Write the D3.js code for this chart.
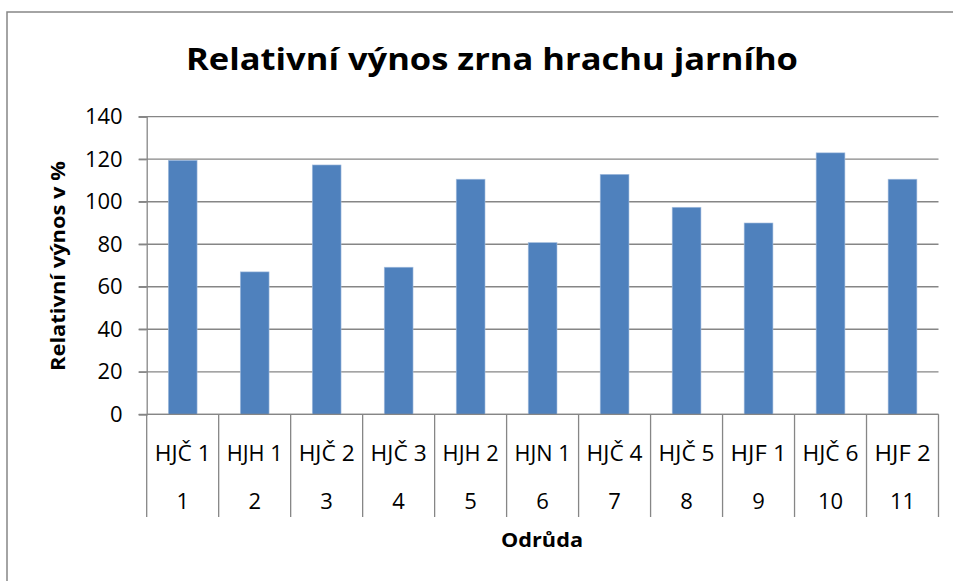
<!DOCTYPE html>
<html>
<head>
<meta charset="utf-8">
<script src="https://cdn.jsdelivr.net/npm/d3@7"></script>
<style>
  body { margin: 0; background: #fff; }
  svg { display: block; }
  text { font-family: "Open Sans", sans-serif; fill: #000; }
</style>
</head>
<body>
<svg id="chart" width="953" height="581"></svg>
<script>
// data
var odrudy = ['HJČ 1', 'HJH 1', 'HJČ 2', 'HJČ 3', 'HJH 2', 'HJN 1', 'HJČ 4', 'HJČ 5', 'HJF 1', 'HJČ 6', 'HJF 2'];
var poradi = ['1', '2', '3', '4', '5', '6', '7', '8', '9', '10', '11'];
var vynos = [119.5, 67, 117.3, 69.2, 110.6, 80.8, 112.9, 97.4, 90, 123, 110.6];
var yTicks = [0, 20, 40, 60, 80, 100, 120, 140];

// rozmery plochy grafu
var plotLeft = 146.7, plotRight = 938.5, plotTop = 116.7, plotBottom = 414.3;
var grey = '#868686';

var svg = d3.select('#chart');

// ramecek grafu
svg.append('rect')
    .attr('x', 7).attr('y', 12)
    .attr('width', 960).attr('height', 600)
    .attr('fill', 'none')
    .attr('stroke', grey)
    .attr('stroke-width', 1.5);

var x = d3.scaleBand().domain(poradi).range([plotLeft, plotRight]).padding(0);
var y = d3.scaleLinear().domain([0, 140]).range([plotBottom, plotTop]);

// mrizka
svg.append('g').selectAll('line')
    .data(yTicks)
    .enter().append('line')
    .attr('x1', plotLeft - 8).attr('x2', plotRight)
    .attr('y1', function (d) { return y(d); })
    .attr('y2', function (d) { return y(d); })
    .attr('stroke', grey)
    .attr('stroke-width', 1.3);

// osa y
var yAxis = d3.axisLeft(y).tickValues(yTicks).tickSize(8).tickPadding(16);
var gy = svg.append('g').attr('transform', 'translate(' + plotLeft + ',0)').call(yAxis);
gy.select('.domain').attr('stroke', grey).attr('stroke-width', 1.3);
gy.selectAll('.tick line').attr('stroke', grey).attr('stroke-width', 1.3);
gy.selectAll('.tick text')
    .attr('font-family', '"Open Sans", sans-serif')
    .attr('font-size', 22)
    .attr('fill', '#000');

// sloupce
var bw = x.bandwidth() * 0.4;
svg.append('g').selectAll('rect')
    .data(vynos)
    .enter().append('rect')
    .attr('x', function (d, i) { return x(poradi[i]) + (x.bandwidth() - bw) / 2; })
    .attr('y', function (d) { return y(d); })
    .attr('width', bw)
    .attr('height', function (d) { return y(0) - y(d); })
    .attr('fill', '#4F81BD')
    .attr('stroke', '#a9c1e0')
    .attr('stroke-width', 0.6);

// osa x - dvouurovnova
svg.append('line')
    .attr('x1', plotLeft).attr('x2', plotRight)
    .attr('y1', plotBottom).attr('y2', plotBottom)
    .attr('stroke', grey).attr('stroke-width', 1.3);

var hranice = poradi.map(function (p) { return x(p); }).concat([plotRight]);
svg.append('g').selectAll('line')
    .data(hranice)
    .enter().append('line')
    .attr('x1', function (d) { return d; })
    .attr('x2', function (d) { return d; })
    .attr('y1', plotBottom).attr('y2', 517)
    .attr('stroke', grey).attr('stroke-width', 1.3);

svg.append('g').selectAll('text')
    .data(odrudy)
    .enter().append('text')
    .attr('x', function (d, i) { return x(poradi[i]) + x.bandwidth() / 2; })
    .attr('y', 461)
    .attr('text-anchor', 'middle')
    .attr('font-size', 21)
    .attr('textLength', 56)
    .attr('lengthAdjust', 'spacingAndGlyphs')
    .text(function (d) { return d; });

svg.append('g').selectAll('text')
    .data(poradi)
    .enter().append('text')
    .attr('x', function (d) { return x(d) + x.bandwidth() / 2; })
    .attr('y', 509)
    .attr('text-anchor', 'middle')
    .attr('font-size', 22)
    .text(function (d) { return d; });

// popisky
svg.append('text')
    .attr('x', 492).attr('y', 70)
    .attr('text-anchor', 'middle')
    .attr('font-size', 31)
    .attr('font-weight', 'bold')
    .attr('textLength', 612)
    .attr('lengthAdjust', 'spacingAndGlyphs')
    .text('Relativní výnos zrna hrachu jarního');

svg.append('text')
    .attr('x', 542).attr('y', 547)
    .attr('text-anchor', 'middle')
    .attr('font-size', 20)
    .attr('font-weight', 'bold')
    .attr('textLength', 82)
    .attr('lengthAdjust', 'spacingAndGlyphs')
    .text('Odrůda');

svg.append('text')
    .attr('transform', 'translate(65,266) rotate(-90)')
    .attr('text-anchor', 'middle')
    .attr('font-size', 20)
    .attr('font-weight', 'bold')
    .attr('textLength', 210)
    .attr('lengthAdjust', 'spacingAndGlyphs')
    .text('Relativní výnos v %');
</script>
</body>
</html>
